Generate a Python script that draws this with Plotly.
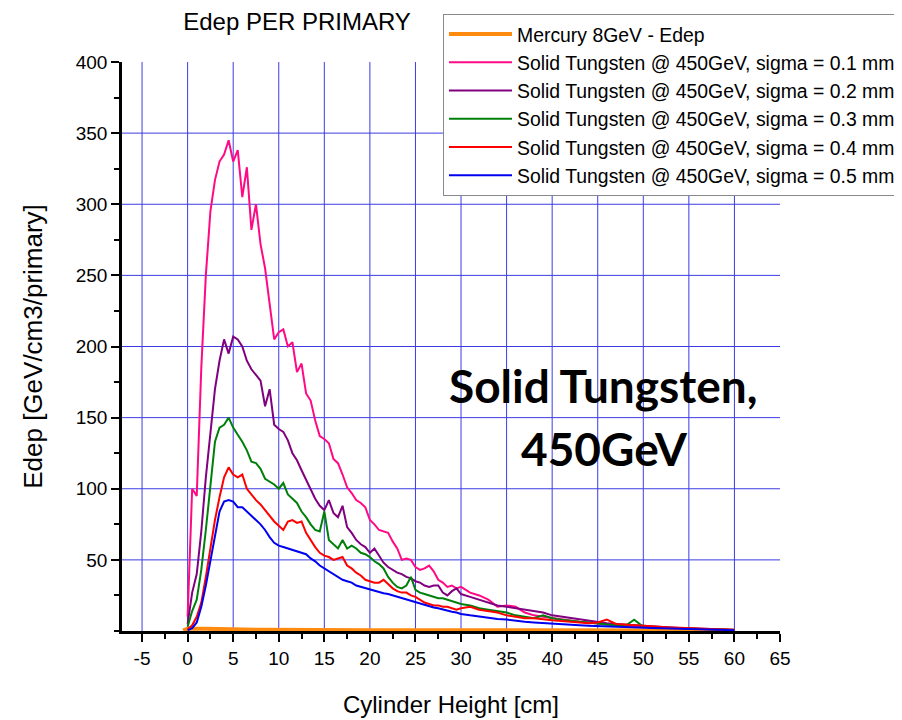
import plotly.graph_objects as go

# ---------------- data ----------------
X_CM = [0, 0.5, 1, 1.5, 2, 2.5, 3, 3.5, 4, 4.5, 5, 5.5, 6, 6.5, 7, 7.5, 8, 8.5, 9, 9.5,
        10, 10.5, 11, 11.5, 12, 12.5, 13, 13.5, 14, 14.5, 15, 15.5, 16, 16.5, 17, 17.5,
        18, 18.5, 19, 19.5, 20, 20.5, 21, 21.5, 22, 22.5, 23, 23.5, 24, 24.5, 25, 25.5,
        26, 26.5, 27, 27.5, 28, 28.5, 29, 29.5, 30,
        31, 32, 33, 34, 35, 36, 37, 38, 39, 40, 41, 42, 43, 44, 45, 46, 47, 48, 49, 50,
        51, 52, 53, 54, 55, 56, 57, 58, 59, 60]

SIGMA_01 = [10, 100, 95, 185, 250, 295, 317, 330, 335, 345, 330, 338, 305, 326, 282, 300,
            272, 255, 230, 205, 210, 212, 200, 203, 182, 188, 167, 162, 148, 137, 135, 132,
            121, 118, 110, 101, 97, 92, 90, 87, 78, 75, 71, 70, 69, 63, 58, 50, 51, 50, 45,
            43, 44, 46, 42, 36, 34, 31, 32, 30, 31,
            27, 25, 22, 17, 18, 17, 13, 11, 10, 9, 8, 7, 6.5, 6, 5, 4.5, 4, 3.5, 3, 3,
            2.5, 2.2, 2, 1.8, 1.6, 1.5, 1.3, 1.2, 0.9, 0.6]

SIGMA_02 = [5, 27, 40, 70, 108, 140, 170, 190, 205, 195, 207, 205, 200, 190, 184, 180,
            176, 158, 170, 145, 142, 140, 134, 125, 120, 113, 106, 100, 93, 88, 85, 92,
            83, 80, 88, 73, 69, 64, 61, 59, 55, 58, 53, 48, 45, 43, 41, 40, 38, 37, 35,
            34, 32, 31, 32, 32, 27, 25, 28, 30, 26,
            24, 22, 20, 18, 17, 16, 15, 14, 13, 11, 10, 9, 8, 7, 6, 5.5, 5, 4.5, 4, 3.5,
            3, 2.7, 2.4, 2.1, 1.9, 1.7, 1.5, 1.3, 1.1, 0.9]

SIGMA_03 = [3, 14, 22, 43, 71, 100, 133, 143, 145, 150, 143, 138, 133, 127, 119, 118,
            114, 107, 105, 103, 100, 104, 96, 93, 90, 84, 80, 75, 71, 70, 84, 64,
            61, 58, 64, 58, 60, 58, 55, 54, 52, 49, 47, 44, 38, 34, 31, 30, 32, 38, 29,
            27, 26, 25, 24, 23, 23, 22, 21, 20, 19,
            18, 16, 15, 14, 13, 11, 10, 9, 11, 9, 8, 7, 6.5, 6, 5, 4.5, 4, 3.5, 8, 3,
            2.6, 2.3, 2, 1.8, 1.6, 1.4, 1.2, 1.0, 0.8, 0.6]

SIGMA_04 = [1, 4, 10, 20, 38, 58, 78, 94, 108, 115, 110, 108, 110, 100, 96, 92,
            89, 85, 81, 77, 74, 71, 77, 78, 76, 77, 69, 64, 59, 55, 53, 52,
            50, 51, 52, 46, 44, 41, 39, 36, 35, 34, 34, 36, 33, 30, 28, 27, 27, 25, 24,
            22, 20, 19, 18, 18, 17, 17, 16, 15, 16,
            17, 15, 14, 13, 11, 10, 9, 9, 8, 7.5, 7, 6.5, 6, 5.5, 6, 8, 5, 4.5, 4, 3.5,
            3, 2.8, 2.5, 2.2, 2, 1.8, 1.6, 1.3, 1.0, 0.7]

SIGMA_05 = [0.5, 2, 6, 17, 32, 50, 67, 84, 91, 92, 91, 87, 87, 84, 81, 78,
            75, 71, 66, 62, 60, 59, 58, 57, 56, 55, 54, 51, 49, 46, 44, 42,
            40, 38, 36, 35, 34, 32, 31, 30, 29, 28, 27, 26.5, 26, 25, 24, 23, 22.5, 21, 20,
            19, 18, 17, 16.5, 16, 15, 14, 13.5, 13, 12,
            11, 10, 9, 8.5, 8, 7, 6.5, 6, 5.5, 5, 4.5, 4.2, 4, 3.7, 3.4, 3.2, 3, 2.7, 2.5, 2.3,
            2.1, 1.9, 1.7, 1.5, 1.4, 1.2, 1.1, 1.0, 0.8, 0.6]

MERCURY_X = [-0.5, 0, 2, 4, 6, 8, 8.5, 20, 40, 60]
MERCURY_Y = [0.5, 1.5, 1.5, 1.5, 1.5, 1.5, 0.8, 0.6, 0.4, 0.3]

SERIES_NAMES = ["Mercury 8GeV - Edep",
                "Solid Tungsten @ 450GeV, sigma = 0.1 mm",
                "Solid Tungsten @ 450GeV, sigma = 0.2 mm",
                "Solid Tungsten @ 450GeV, sigma = 0.3 mm",
                "Solid Tungsten @ 450GeV, sigma = 0.4 mm",
                "Solid Tungsten @ 450GeV, sigma = 0.5 mm"]

X_TICKS = [-5, 0, 5, 10, 15, 20, 25, 30, 35, 40, 45, 50, 55, 60, 65]
Y_TICKS = [50, 100, 150, 200, 250, 300, 350, 400]
GRID_X = [-5, 0, 5, 10, 15, 20, 25, 30, 35, 40, 45, 50, 55, 60]
GRID_Y = [50, 100, 150, 200, 250, 300, 350]

# ---------------- styles ----------------
COLORS = ["#ff8a10", "#ff0a84", "#80007f", "#00800a", "#ff0000", "#0000f0"]
FONT = "Liberation Sans, Arial, sans-serif"
GRID_COLOR = "#3c3ce6"

fig = go.Figure()
fig.add_trace(go.Scatter(x=MERCURY_X, y=MERCURY_Y, mode="lines", name=SERIES_NAMES[0],
                         line=dict(color=COLORS[0], width=4)))
for name, ys, col in zip(SERIES_NAMES[1:], [SIGMA_01, SIGMA_02, SIGMA_03, SIGMA_04, SIGMA_05],
                         COLORS[1:]):
    fig.add_trace(go.Scatter(x=X_CM, y=ys, mode="lines", name=name,
                             line=dict(color=col, width=2)))

shapes = []
for gx in GRID_X:
    shapes.append(dict(type="line", xref="x", yref="paper", x0=gx, x1=gx, y0=0, y1=1,
                       line=dict(color=GRID_COLOR, width=1), layer="below"))
for gy in GRID_Y:
    shapes.append(dict(type="line", xref="paper", yref="y", x0=0, x1=1, y0=gy, y1=gy,
                       line=dict(color=GRID_COLOR, width=1), layer="below"))

fig.update_layout(
    width=902, height=720,
    margin=dict(l=114, r=130, t=54, b=97, autoexpand=False),
    paper_bgcolor="white", plot_bgcolor="white",
    font=dict(family=FONT, color="black", size=19),
    title=dict(text="Edep PER PRIMARY", x=289 / 902, xanchor="center",
               y=1 - 14 / 720, yanchor="middle", font=dict(size=24, family=FONT)),
    shapes=shapes,
    showlegend=True,
    legend=dict(x=(443 - 122) / 658, y=(631 - 14) / 569, xanchor="left", yanchor="top",
                bgcolor="white", bordercolor="#8a8a8a", borderwidth=1,
                font=dict(size=19.4, family=FONT), itemwidth=63,
                tracegroupgap=0),
    xaxis=dict(range=[-7.2, 65], tickvals=X_TICKS, ticktext=[str(v) for v in X_TICKS],
               automargin=False,
               showgrid=False, zeroline=False, showline=True, linecolor="black",
               linewidth=3, ticks="outside", ticklen=8, tickwidth=2, tickcolor="black",
               minor=dict(dtick=2.5, tick0=0, ticks="outside", ticklen=5, tickwidth=1.5,
                          tickcolor="black", showgrid=False),
               tickfont=dict(size=19),
               title=dict(text="Cylinder Height [cm]", font=dict(size=24), standoff=29)),
    yaxis=dict(range=[0, 400], tickvals=Y_TICKS, ticktext=[str(v) for v in Y_TICKS],
               automargin=False,
               showgrid=False, zeroline=False, showline=True, linecolor="black",
               linewidth=2.5, ticks="outside", ticklen=8, tickwidth=2, tickcolor="black",
               minor=dict(dtick=25, tick0=0, ticks="outside", ticklen=5, tickwidth=1.5,
                          tickcolor="black", showgrid=False),
               tickfont=dict(size=19),
               title=dict(text="Edep [GeV/cm3/primary]", font=dict(size=26), standoff=26)),
    annotations=[
        dict(text="<b>Solid Tungsten,</b>", xref="paper", yref="paper",
             x=(603 - 122) / 658, y=(631 - 385) / 569, showarrow=False,
             xanchor="center", yanchor="middle",
             font=dict(family="Lato, Noto Sans, sans-serif", size=46, color="black")),
        dict(text="<b>450GeV</b>", xref="paper", yref="paper",
             x=(604 - 122) / 658, y=(631 - 448) / 569, showarrow=False,
             xanchor="center", yanchor="middle",
             font=dict(family="Lato, Noto Sans, sans-serif", size=46, color="black")),
    ],
)

fig.write_html("out.html")
